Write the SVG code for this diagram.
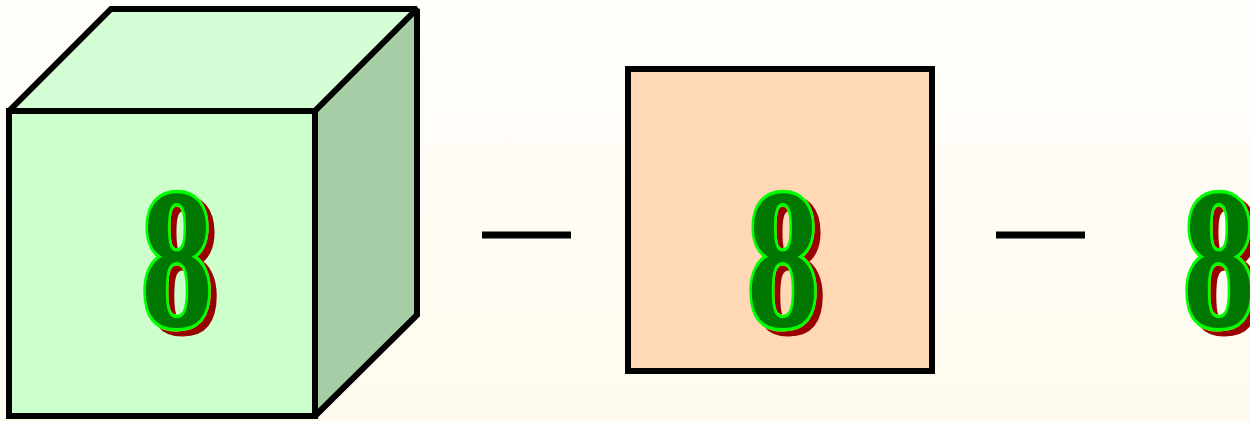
<svg xmlns="http://www.w3.org/2000/svg" width="1250" height="421" viewBox="0 0 1250 421">
<defs>
<linearGradient id="bg" x1="0" y1="0" x2="0" y2="1">
<stop offset="0" stop-color="#fffefb"/>
<stop offset="1" stop-color="#fffaee"/>
</linearGradient>
<filter id="shadow" x="-20%" y="-20%" width="140%" height="140%">
<feOffset in="SourceAlpha" dx="6" dy="5" result="off"/>
<feFlood flood-color="#990000"/>
<feComposite in2="off" operator="in" result="sh"/>
<feMerge><feMergeNode in="sh"/><feMergeNode in="SourceGraphic"/></feMerge>
</filter>
</defs>
<style>
.edge{stroke:#000;stroke-width:6;stroke-linejoin:miter;stroke-miterlimit:2}
.dash{stroke:#000;stroke-width:7}
.d8{font-family:"Liberation Serif",serif;font-weight:bold;font-size:200px;text-anchor:middle;fill:#007700;stroke:#00ff00;stroke-width:7;paint-order:stroke}
</style>
<rect width="1250" height="421" fill="url(#bg)"/>
<g id="cube">
<polygon class="edge" points="9,111 111,9 417,9 315,111" fill="#d5fdd5"/>
<polygon class="edge" points="315,111 417,9 417,315 315,416" fill="#a6cea6"/>
<rect class="edge" x="9" y="111" width="306" height="305" fill="#ccffcc"/>
<g filter="url(#shadow)"><text class="d8" transform="translate(177,326) scale(0.72,1)">8</text></g>
</g>
<g id="connectors">
<line class="dash" x1="482" y1="235" x2="571" y2="235"/>
<line class="dash" x1="996" y1="235" x2="1085" y2="235"/>
</g>
<g id="square">
<rect class="edge" x="628" y="69" width="304" height="302" fill="#ffd8b5"/>
<g filter="url(#shadow)"><text class="d8" transform="translate(783,326) scale(0.72,1)">8</text></g>
</g>
<g id="digit">
<g filter="url(#shadow)"><text class="d8" transform="translate(1219,326) scale(0.72,1)">8</text></g>
</g>
</svg>
